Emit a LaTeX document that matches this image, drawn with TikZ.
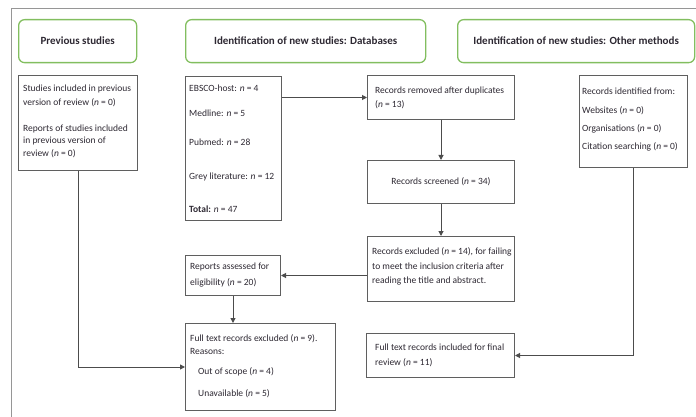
\documentclass[tikz,border=0pt]{standalone}
\usepackage{fontspec}
\setmainfont{Carlito}
\usetikzlibrary{arrows.meta}
\definecolor{boxgray}{RGB}{95,95,95}
\definecolor{hdrgreen}{RGB}{130,190,95}
\definecolor{txt}{RGB}{45,40,50}
\definecolor{framegray}{RGB}{150,150,150}
\tikzset{
  box/.style={draw=boxgray, line width=1pt, inner sep=0pt, anchor=north west},
  hdr/.style={draw=hdrgreen, line width=1.3pt, rounded corners=6pt, inner sep=0pt,
    anchor=north west, font=\fontsize{11}{13}\selectfont\bfseries, text=txt},
  tx/.style={anchor=west, inner sep=0pt, font=\fontsize{9.5}{11}\selectfont, text=txt},
  link/.style={draw=boxgray!80!black, line width=1pt},
  arr/.style={link, -{Triangle[length=5pt,width=5pt]}}
}
\begin{document}
\begin{tikzpicture}[x=1pt,y=-1pt]
\useasboundingbox (0,0) rectangle (696,417);
% outer frame
\draw[framegray, line width=1pt] (11,417) -- (11,9) -- (696,9);
% headers
\node[hdr, minimum width=118pt, minimum height=43pt] (h1) at (18,19) {Previous studies};
\node[hdr, minimum width=240pt, minimum height=43pt] (h2) at (185,19) {Identification of new studies: Databases};
\node[hdr, minimum width=237pt, minimum height=43pt] (h3) at (457,19) {Identification of new studies: Other methods};
% boxes
\node[box, minimum width=119pt, minimum height=95pt] (prev) at (18,75) {};
\node[box, minimum width=96pt, minimum height=144pt] (db) at (185,76) {};
\node[box, minimum width=147pt, minimum height=44pt] (rem) at (367,75) {};
\node[box, minimum width=147pt, minimum height=43pt] (scr) at (367,160) {};
\node[box, minimum width=147pt, minimum height=65pt] (exc) at (367,236) {};
\node[box, minimum width=108pt, minimum height=92pt] (oth) at (579,75) {};
\node[box, minimum width=95pt, minimum height=40pt] (rep) at (185,255) {};
\node[box, minimum width=150pt, minimum height=87pt] (fte) at (185,323) {};
\node[box, minimum width=148pt, minimum height=44pt] (fti) at (366,333) {};
% texts
\node[tx] (t1) at (23,89) {Studies included in previous};
\node[tx] (t2) at (23,103) {version of review (\textit{n} = 0)};
\node[tx] (t3) at (23,129) {Reports of studies included};
\node[tx] (t4) at (23,141) {in previous version of};
\node[tx] (t5) at (23,154) {review (\textit{n} = 0)};
\node[tx] (d1) at (189,88) {EBSCO-host: \textit{n} = 4};
\node[tx] (d2) at (189,113) {Medline: \textit{n} = 5};
\node[tx] (d3) at (189,142) {Pubmed: \textit{n} = 28};
\node[tx] (d4) at (189,177) {Grey literature: \textit{n} = 12};
\node[tx] (d5) at (189,209) {\textbf{Total:} \textit{n} = 47};
\node[tx] (r1) at (375,91) {Records removed after duplicates};
\node[tx] (r2) at (375,105) {(\textit{n} = 13)};
\node[tx, anchor=center] (s1) at (scr.center) {Records screened (\textit{n} = 34)};
\node[tx] (e1) at (372,252) {Records excluded (\textit{n} = 14), for failing};
\node[tx] (e2) at (372,266) {to meet the inclusion criteria after};
\node[tx] (e3) at (372,281) {reading the title and abstract.};
\node[tx] (o1) at (582,91) {Records identified from:};
\node[tx] (o2) at (582,111) {Websites (\textit{n} = 0)};
\node[tx] (o3) at (582,129) {Organisations (\textit{n} = 0)};
\node[tx] (o4) at (582,147) {Citation searching (\textit{n} = 0)};
\node[tx] (p1) at (190,267) {Reports assessed for};
\node[tx] (p2) at (190,283) {eligibility (\textit{n} = 20)};
\node[tx] (f1) at (190,339) {Full text records excluded (\textit{n} = 9).};
\node[tx] (f2) at (190,351) {Reasons:};
\node[tx] (f3) at (198,372) {Out of scope (\textit{n} = 4)};
\node[tx] (f4) at (198,394) {Unavailable (\textit{n} = 5)};
\node[tx] (i1) at (375,347) {Full text records included for final};
\node[tx] (i2) at (375,363) {review (\textit{n} = 11)};
% connectors
\draw[arr] (db.east |- rem.west) -- (rem.west);
\draw[arr] (rem.south) -- (scr.north);
\draw[arr] (scr.south) -- (exc.north);
\draw[arr] (exc.west |- rep.east) -- (rep.east);
\draw[arr] (rep.south) -- (fte.north -| rep.south);
\draw[arr] (prev.south) |- (fte.west);
\draw[arr] (oth.south) |- (fti.east);
\end{tikzpicture}
\end{document}
